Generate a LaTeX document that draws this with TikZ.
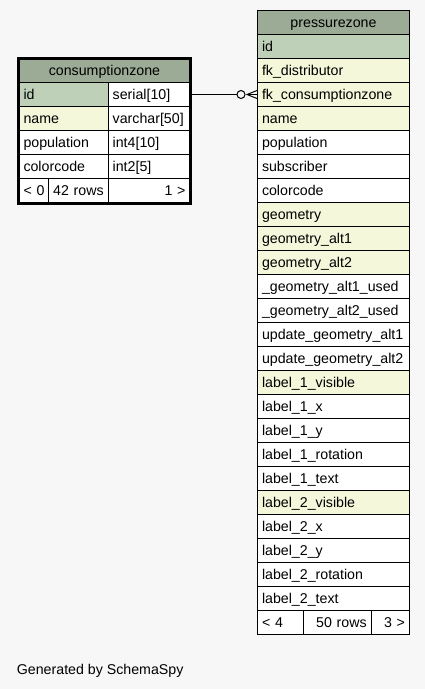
\documentclass[tikz,border=0pt]{standalone}
\usepackage{fontspec}
\setmainfont{Liberation Sans}
\definecolor{canvas}{HTML}{F7F7F7}
\definecolor{headbg}{HTML}{9BAB96}
\definecolor{pkbg}{HTML}{BED1B8}
\definecolor{idxbg}{HTML}{F4F7DA}
\tikzset{
  cell/.style={draw=black, line width=1pt, anchor=north west, fill=white,
    minimum height=24pt, inner xsep=4.5pt, inner ysep=0pt,
    text height=10.5pt, text depth=1.1pt,
    font=\fontsize{14.2}{16}\selectfont},
  lcell/.style 2 args={cell, minimum width=#1, text width=#1-9pt, align=left, fill=#2},
  rcell/.style={cell, minimum width=#1, text width=#1-9pt, align=right},
  hcell/.style={cell, minimum width=#1, text width=#1-9pt, align=center, fill=headbg},
  link/.style={draw=black, line width=1pt},
}
% one column row of the pressurezone table: index, label, fill
\newcommand\pzrow[3]{%
  \node[lcell={152pt}{#3}] (pz#1) at (257,{34+24*(#1-1)}) {#2};}
\begin{document}
\begin{tikzpicture}[x=1pt,y=-1pt]
  \fill[canvas] (0,0) rectangle (425,689);
  \useasboundingbox (0,0) rectangle (425,689);

  % ---- consumptionzone ----
  \node[hcell=171pt] (czhead) at (18.5,58.5) {consumptionzone};
  \node[lcell={89.2pt}{pkbg}] (czid) at (18.5,82) {id};
  \node[lcell={81.8pt}{white}] (czidtype) at (107.7,82) {serial[10]};
  \node[lcell={89.2pt}{idxbg}] (czname) at (18.5,106) {name};
  \node[lcell={81.8pt}{white}] (cznametype) at (107.7,106) {varchar[50]};
  \node[lcell={89.2pt}{white}] (czpop) at (18.5,130) {population};
  \node[lcell={81.8pt}{white}] (czpoptype) at (107.7,130) {int4[10]};
  \node[lcell={89.2pt}{white}] (czcol) at (18.5,154) {colorcode};
  \node[lcell={81.8pt}{white}] (czcoltype) at (107.7,154) {int2[5]};
  \node[lcell={29.2pt}{white}] (czparents) at (18.5,178) {\mbox{< 0}};
  \node[rcell=60pt] (czrows) at (47.7,178) {42 rows};
  \node[rcell=81.8pt] (czchildren) at (107.7,178) {1 >};
  \draw[line width=3pt] (czhead.north west) rectangle (czchildren.south east);

  % ---- pressurezone ----
  \node[hcell=152pt] (pzhead) at (257,10) {pressurezone};
  \pzrow{1}{id}{pkbg}
  \pzrow{2}{fk\_distributor}{idxbg}
  \pzrow{3}{fk\_consumptionzone}{idxbg}
  \pzrow{4}{name}{idxbg}
  \pzrow{5}{population}{white}
  \pzrow{6}{subscriber}{white}
  \pzrow{7}{colorcode}{white}
  \pzrow{8}{geometry}{idxbg}
  \pzrow{9}{geometry\_alt1}{idxbg}
  \pzrow{10}{geometry\_alt2}{idxbg}
  \pzrow{11}{\_geometry\_alt1\_used}{white}
  \pzrow{12}{\_geometry\_alt2\_used}{white}
  \pzrow{13}{update\_geometry\_alt1}{white}
  \pzrow{14}{update\_geometry\_alt2}{white}
  \pzrow{15}{label\_1\_visible}{idxbg}
  \pzrow{16}{label\_1\_x}{white}
  \pzrow{17}{label\_1\_y}{white}
  \pzrow{18}{label\_1\_rotation}{white}
  \pzrow{19}{label\_1\_text}{white}
  \pzrow{20}{label\_2\_visible}{idxbg}
  \pzrow{21}{label\_2\_x}{white}
  \pzrow{22}{label\_2\_y}{white}
  \pzrow{23}{label\_2\_rotation}{white}
  \pzrow{24}{label\_2\_text}{white}
  \node[lcell={45.7pt}{white}] (pzparents) at (257,610) {< 4};
  \node[rcell=68pt] (pzrows) at (302.7,610) {50 rows};
  \node[rcell=38.3pt] (pzchildren) at (370.7,610) {3 >};

  % ---- relationship: zero-or-many crow's foot ----
  \coordinate (ring) at ([xshift=-16pt]pz3.west);
  \coordinate (apex) at ([xshift=-10pt]pz3.west);
  \draw[link] (czidtype.east) -- ([xshift=-4pt]ring);
  \draw[link, fill=canvas] (ring) circle[radius=4pt];
  \draw[link] ([yshift=-4pt]pz3.west) -- (apex) -- ([yshift=4pt]pz3.west);
  \draw[link] (apex) -- (pz3.west);

  \node[anchor=base west, inner sep=0pt, font=\fontsize{14.2}{16}\selectfont]
    (credit) at (16.7,674.5) {Generated by SchemaSpy};
\end{tikzpicture}
\end{document}
